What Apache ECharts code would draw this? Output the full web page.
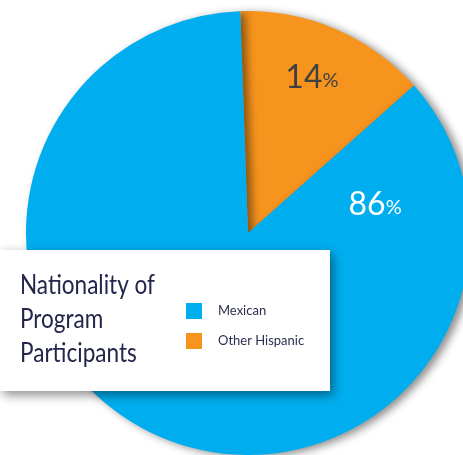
<!DOCTYPE html>
<html>
<head>
<meta charset="utf-8">
<style>
  html, body { margin: 0; padding: 0; background: #ffffff; }
  #chart { width: 463px; height: 455px; }
</style>
<script src="https://cdn.jsdelivr.net/npm/echarts@6/dist/echarts.min.js"></script>
</head>
<body>
<div id="chart"></div>
<script>
// Share of program participants by nationality (percent)
const categories = ['Other Hispanic', 'Mexican'];
const shares = [14, 86];
const legendOrder = ['Mexican', 'Other Hispanic'];
const titleLines = ['Nationality of', 'Program', 'Participants'];

const sliceColors = { 'Mexican': '#00AEEF', 'Other Hispanic': '#F7941D' };
const labelColors = { 'Mexican': '#ffffff', 'Other Hispanic': '#404040' };
// nudge of each percentage away from its default inside spot
const labelOffsets = { 'Mexican': [172, -133], 'Other Hispanic': [19, -51] };

const FONT = 'Lato, "Open Sans", sans-serif';
const TITLE_SIZE = 26;
const TITLE_WIDTH = 135;   // width of the widest title line

// squeeze the title horizontally so it reads as a narrow face
const ctx = document.createElement('canvas').getContext('2d');
ctx.font = TITLE_SIZE + 'px ' + FONT;
const titleScale = TITLE_WIDTH / ctx.measureText(titleLines[0]).width;

const chart = echarts.init(document.getElementById('chart'), null, { renderer: 'canvas' });

const pieData = categories.map((name, i) => ({
  name,
  value: shares[i],
  itemStyle: { color: sliceColors[name] },
  label: { offset: labelOffsets[name], color: labelColors[name] }
}));

const titleText = titleLines.map((line, i) => ({
  type: 'text',
  z: 20,
  x: 20,
  y: 286 + i * 34,
  scaleX: titleScale,
  style: {
    text: line,
    fontFamily: FONT,
    fontSize: TITLE_SIZE,
    fill: '#23264a',
    verticalAlign: 'middle',
    align: 'left'
  }
}));

chart.setOption({
  backgroundColor: '#ffffff',
  animation: false,
  legend: {
    data: legendOrder,
    orient: 'vertical',
    left: 186,
    top: 303,
    padding: 0,
    itemWidth: 16,
    itemHeight: 16,
    itemGap: 14,
    icon: 'rect',
    z: 20,
    textStyle: {
      fontFamily: FONT,
      fontSize: 13,
      color: '#2d3050',
      padding: [0, 0, 0, 11]
    }
  },
  graphic: [{
    type: 'rect',
    z: 5,
    shape: { x: 0, y: 250, width: 330, height: 141 },
    style: {
      fill: '#ffffff',
      shadowBlur: 10,
      shadowOffsetX: 3,
      shadowOffsetY: 4,
      shadowColor: 'rgba(0,0,0,0.45)'
    }
  }].concat(titleText),
  series: [{
    type: 'pie',
    center: [248, 233],
    radius: 222,
    startAngle: 92,
    clockwise: true,
    silent: true,
    avoidLabelOverlap: false,
    z: 2,
    data: pieData,
    itemStyle: {
      shadowBlur: 9,
      shadowOffsetX: 5,
      shadowOffsetY: 2,
      shadowColor: 'rgba(0,0,0,0.45)'
    },
    labelLine: { show: false },
    label: {
      show: true,
      position: 'inside',
      formatter: p => '{n|' + p.value + '}{p|%}',
      rich: {
        n: { fontFamily: FONT, fontSize: 32 },
        p: { fontFamily: FONT, fontSize: 20, padding: [6, 0, 0, 0] }
      }
    }
  }]
});
</script>
</body>
</html>
